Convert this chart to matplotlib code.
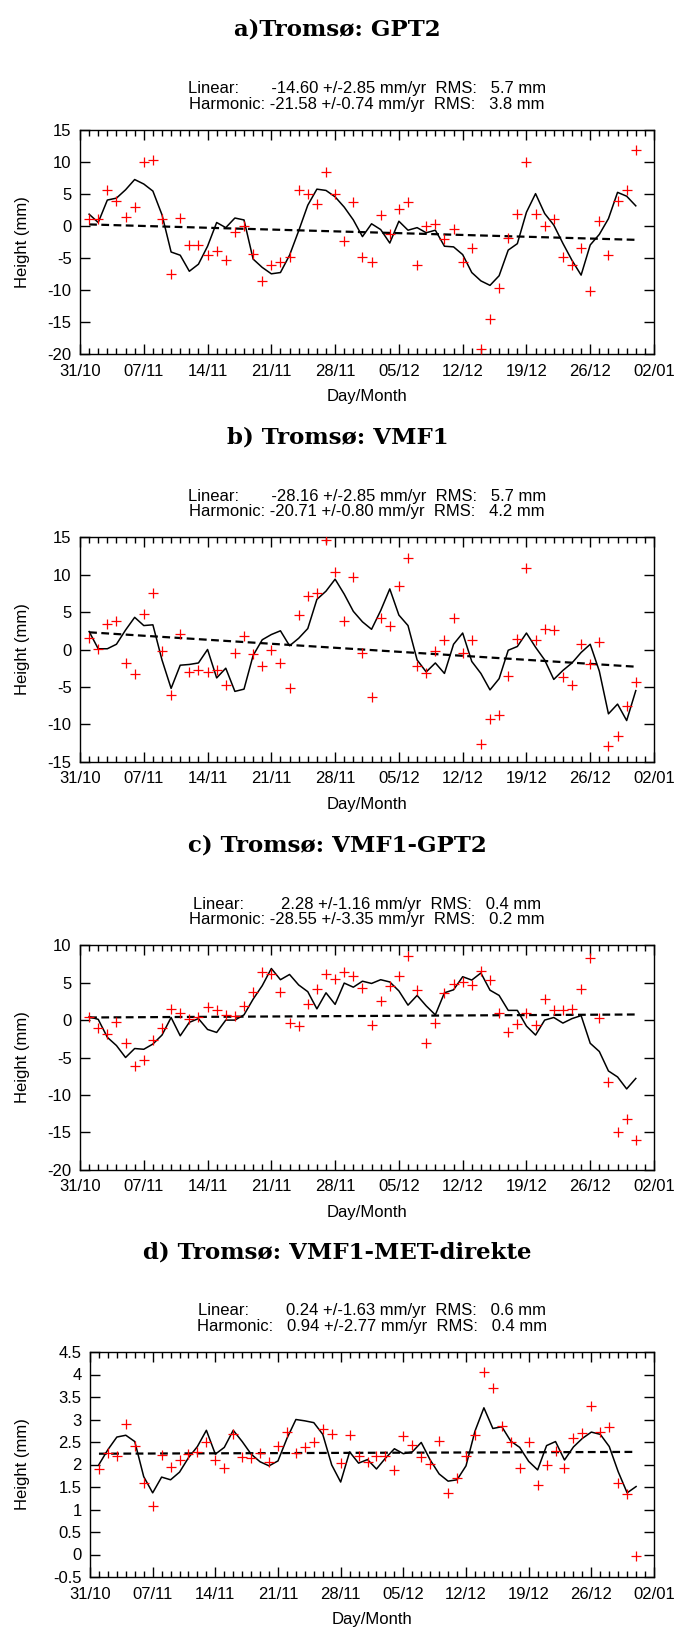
import numpy as np
import matplotlib
matplotlib.use('Agg')
import matplotlib.pyplot as plt
from matplotlib.ticker import MultipleLocator, FixedLocator, FormatStrFormatter

plt.rcParams['font.family'] = ['Liberation Sans', 'DejaVu Sans']

# dias 01/11 .. 31/12
dias = np.arange(1, 62)
tick_dias = [0, 7, 14, 21, 28, 35, 42, 49, 56, 63]
tick_labels = ['31/10', '07/11', '14/11', '21/11', '28/11',
               '05/12', '12/12', '19/12', '26/12', '02/01']

# a) GPT2
pontos_a = [1.0, 1.1, 5.5, 3.9, 1.4, 2.9, 9.9, 10.3, 1.0, -7.6,
            1.2, -3.0, -3.0, -4.6, -4.0, -5.4, -1.0, -0.1, -4.4, -8.6,
            -6.2, -5.6, -4.9, 5.5, 5.0, 3.4, 8.4, 5.0, -2.4, 3.7,
            -4.8, -5.7, 1.7, -1.35, 2.65, 3.7, -6.2, -0.1, 0.2, -2.1,
            -0.5, -5.6, -3.5, -19.2, -14.6, -9.7, -1.9, 1.9, 10.0, 1.9,
            -0.1, 1.1, -4.9, -6.1, -3.4, -10.2, 0.8, -4.6, 3.8, 5.5, 11.8]
linha_a = [1.8, 0.5, 4.0, 4.3, 5.6, 7.2, 6.5, 5.4, 1.7, -4.1,
           -4.6, -7.1, -6.0, -3.2, 0.5, -0.3, 1.2, 0.9, -5.2, -6.5,
           -7.5, -7.3, -4.6, -0.8, 3.2, 5.7, 5.5, 4.5, 2.9, 0.9,
           -1.7, 0.3, -0.6, -2.7, 0.7, -0.7, -0.3, -1.1, -0.7, -3.2,
           -3.3, -4.5, -7.3, -8.6, -9.3, -7.8, -3.8, -2.8, 2.1, 5.0,
           1.9, 0.1, -2.75, -5.4, -7.7, -3.0, -1.35, 1.1, 5.2, 4.6, 3.1]
trend_a = [0.2, -2.2]

# b) VMF1
pontos_b = [1.5, 0.05, 3.4, 3.8, -1.8, -3.3, 4.7, 7.6, -0.2, -6.1,
            2.1, -3.0, -2.8, -3.0, -2.8, -4.7, -0.5, 1.8, -0.6, -2.2,
            -0.1, -1.8, -5.2, 4.6, 7.2, 7.5, 14.6, 10.4, 3.8, 9.7,
            -0.5, -6.4, 4.2, 3.2, 8.5, 12.2, -2.2, -3.2, -0.2, 1.3,
            4.2, -0.5, 1.25, -12.7, -9.3, -8.7, -3.5, 1.4, 10.9, 1.25,
            2.7, 2.6, -3.7, -4.8, 0.7, -2.0, 1.0, -12.9, -11.5, -7.6, -4.3]
linha_b = [2.4, 0.1, 0.1, 0.7, 2.6, 4.3, 3.2, 3.3, -1.4, -5.2,
           -2.1, -2.0, -1.8, 0.0, -3.8, -2.5, -5.6, -5.3, -0.8, 1.3,
           2.0, 2.5, 0.5, 1.5, 2.8, 6.7, 7.8, 9.4, 7.4, 5.1,
           3.7, 2.7, 5.2, 8.1, 4.6, 3.2, -1.4, -3.0, -1.8, -3.2,
           0.7, 2.2, -1.6, -3.2, -5.4, -3.9, -0.1, 0.4, 2.2, 0.3,
           -1.4, -4.0, -2.8, -1.8, -0.4, 0.7, -2.9, -8.6, -7.3, -9.5, -5.5]
trend_b = [2.3, -2.3]

# c) VMF1-GPT2
pontos_c = [0.45, -1.0, -1.9, -0.2, -3.1, -6.2, -5.3, -2.7, -1.1, 1.5,
            0.9, 0.2, 0.35, 1.7, 1.3, 0.7, 0.6, 1.9, 3.8, 6.4,
            6.1, 3.7, -0.35, -0.8, 2.2, 4.1, 6.1, 5.5, 6.4, 5.9,
            4.3, -0.6, 2.6, 4.6, 5.9, 8.6, 4.0, -3.0, -0.45, 3.65,
            4.8, 5.1, 4.7, 6.5, 5.35, 1.0, -1.6, -0.5, 0.9, -0.7,
            2.85, 1.4, 1.3, 1.5, 4.2, 8.3, 0.25, -8.3, -15.0, -13.2, -16.0]
linha_c = [0.45, 0.1, -2.3, -3.4, -5.0, -3.8, -3.9, -3.2, -2.0, 0.35,
           -2.1, -0.3, 0.2, -1.25, -1.65, 0.0, 0.0, 0.7, 2.8, 4.6,
           6.9, 5.4, 6.1, 4.7, 3.8, 1.5, 3.65, 2.1, 4.95, 4.4,
           5.2, 4.9, 5.4, 5.1, 3.9, 2.0, 3.3, 1.9, 0.7, 3.65,
           4.05, 5.8, 5.35, 6.3, 4.0, 3.3, 1.3, 1.3, -0.8, -2.0,
           0.0, 0.35, -0.4, 0.2, 0.6, -3.1, -4.2, -6.8, -7.6, -9.2, -7.8]
trend_c = [0.35, 0.75]

# d) VMF1-MET-direkte
pontos_d = [1.91, 2.26, 2.2, 2.9, 2.41, 1.59, 1.08, 2.22, 1.95, 2.1,
            2.23, 2.28, 2.5, 2.09, 1.92, 2.68, 2.16, 2.15, 2.26, 2.06,
            2.41, 2.72, 2.26, 2.38, 2.49, 2.78, 2.67, 2.03, 2.65, 2.19,
            2.06, 2.18, 2.18, 1.87, 2.63, 2.43, 2.17, 2.02, 2.52, 1.36,
            1.7, 2.18, 2.66, 4.06, 3.7, 2.85, 2.5, 1.92, 2.49, 1.55,
            2.0, 2.31, 1.93, 2.59, 2.71, 3.29, 2.72, 2.84, 1.58, 1.34, -0.03]
linha_d = [2.0, 2.33, 2.61, 2.65, 2.51, 1.73, 1.37, 1.72, 1.66, 1.83,
           2.15, 2.4, 2.76, 2.23, 2.38, 2.76, 2.51, 2.23, 2.06, 1.97,
           2.08, 2.58, 3.0, 2.97, 2.93, 2.67, 1.99, 1.61, 2.28, 2.03,
           2.11, 1.9, 2.14, 2.35, 2.24, 2.28, 2.49, 2.1, 1.79, 1.63,
           1.66, 1.97, 2.74, 3.26, 2.8, 2.84, 2.52, 2.38, 2.07, 1.88,
           2.42, 2.51, 2.1, 2.39, 2.58, 2.72, 2.67, 2.4, 1.84, 1.37, 1.51]
trend_d = [2.24, 2.28]

W, H = 675, 1627
fig = plt.figure(figsize=(W / 100, H / 100), dpi=100)


def painel(left, top, bottom, titulo, linear, harmonic,
           pontos, linha, trend, ylim, ystep):
    right = 654
    ax = fig.add_axes([left / W, 1 - bottom / H, (right - left) / W, (bottom - top) / H])
    ax.plot(dias, pontos, '+', color='red', ms=6.5, mew=0.9, zorder=3)
    ax.plot(dias, linha, '-', color='black', lw=1.1)
    ax.plot([dias[0], dias[-1]], trend, color='black', lw=1.6, dashes=(3.5, 2))

    ax.set_xlim(0, 63)
    ax.set_ylim(*ylim)
    ax.xaxis.set_major_locator(FixedLocator(tick_dias))
    ax.set_xticklabels(tick_labels)
    ax.xaxis.set_minor_locator(MultipleLocator(1))
    ax.yaxis.set_major_locator(MultipleLocator(ystep))
    ax.yaxis.set_major_formatter(FormatStrFormatter('%g'))
    ax.tick_params(which='both', direction='in', top=True, right=True, width=1)
    ax.tick_params(which='major', length=7, labelsize=12)
    ax.tick_params(which='minor', length=4)
    ax.tick_params(axis='y', pad=6)
    ax.tick_params(axis='x', pad=7)
    for s in ax.spines.values():
        s.set_linewidth(1.0)

    ax.set_xlabel('Day/Month', fontsize=12, labelpad=7.5)
    ax.set_ylabel('Height (mm)', fontsize=12)
    ax.yaxis.set_label_coords((30 - left) / (right - left), 0.5)

    cx = (left + right) / 2 / W
    fig.text(0.5, 1 - (top - 100) / H, titulo, ha='center', va='center',
             fontsize=16.5, fontweight='bold', family='DejaVu Serif')
    fig.text(cx, 1 - (top - 41) / H, linear, ha='center', va='center', fontsize=12)
    fig.text(cx, 1 - (top - 25.5) / H, harmonic, ha='center', va='center', fontsize=12)
    return ax


painel(80, 129.5, 354, 'a)Tromsø: GPT2',
       'Linear:       -14.60 +/-2.85 mm/yr  RMS:   5.7 mm',
       'Harmonic: -21.58 +/-0.74 mm/yr  RMS:   3.8 mm',
       pontos_a, linha_a, trend_a, (-20, 15), 5)

painel(80, 537.3, 761.7, 'b) Tromsø: VMF1',
       'Linear:       -28.16 +/-2.85 mm/yr  RMS:   5.7 mm',
       'Harmonic: -20.71 +/-0.80 mm/yr  RMS:   4.2 mm',
       pontos_b, linha_b, trend_b, (-15, 15), 5)

painel(80, 945.3, 1169.7, 'c) Tromsø: VMF1-GPT2',
       'Linear:        2.28 +/-1.16 mm/yr  RMS:   0.4 mm',
       'Harmonic: -28.55 +/-3.35 mm/yr  RMS:   0.2 mm',
       pontos_c, linha_c, trend_c, (-20, 10), 5)

painel(90, 1352, 1577, 'd) Tromsø: VMF1-MET-direkte',
       'Linear:        0.24 +/-1.63 mm/yr  RMS:   0.6 mm',
       'Harmonic:   0.94 +/-2.77 mm/yr  RMS:   0.4 mm',
       pontos_d, linha_d, trend_d, (-0.5, 4.5), 0.5)

fig.savefig('out.png', dpi=100)
